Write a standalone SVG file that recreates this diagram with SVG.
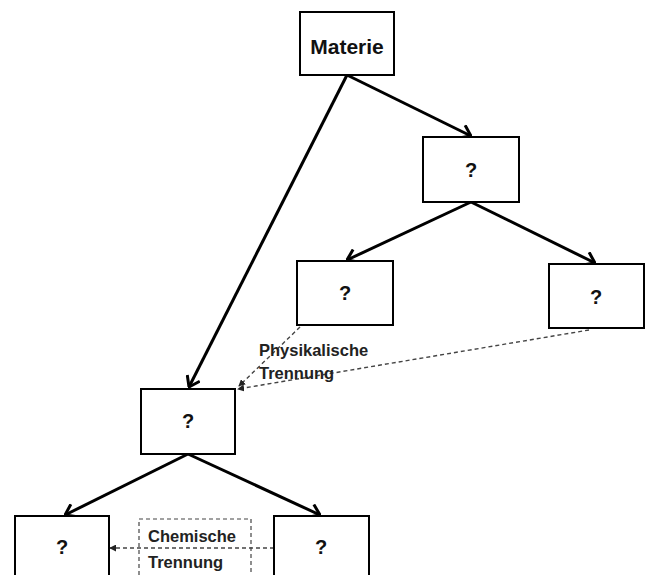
<svg xmlns="http://www.w3.org/2000/svg" width="649" height="575" viewBox="0 0 649 575">
<style>
.box{fill:#fff;stroke:#000;stroke-width:2}
.t{font-family:"Liberation Sans",Arial,sans-serif;font-weight:bold;font-size:20px;fill:#111;text-anchor:middle}
.m{font-size:21px}
.lbl{font-family:"Liberation Sans",Arial,sans-serif;font-weight:bold;font-size:16.5px;fill:#222}
.solid{stroke:#000;stroke-width:3;fill:none;marker-end:url(#open)}
.dash{stroke:#444;stroke-width:1.4;stroke-dasharray:4 3;fill:none;marker-end:url(#tri)}
</style>
<defs>
<marker id="open" viewBox="0 0 12 16" refX="11" refY="8" markerWidth="12" markerHeight="16" markerUnits="userSpaceOnUse" orient="auto">
<path d="M1,1 L11,8 L1,15" fill="none" stroke="#000" stroke-width="3"/>
</marker>
<marker id="tri" viewBox="0 0 8 8" refX="7" refY="4" markerWidth="7" markerHeight="7" markerUnits="userSpaceOnUse" orient="auto">
<path d="M0,0 L8,4 L0,8 Z" fill="#222"/>
</marker>
</defs>
<rect width="649" height="575" fill="#fff"/>
<g id="connectors">
<line class="solid" x1="347" y1="75" x2="471" y2="136"/>
<line class="solid" x1="347" y1="75" x2="189" y2="387"/>
<line class="solid" x1="471" y1="202" x2="347" y2="260"/>
<line class="solid" x1="471" y1="202" x2="595" y2="263"/>
<line class="solid" x1="188" y1="454" x2="65" y2="515"/>
<line class="solid" x1="188" y1="454" x2="320" y2="515"/>
<line class="dash" x1="300" y1="327" x2="239" y2="386"/>
<line class="dash" x1="589" y1="330" x2="238" y2="389"/>
<line class="dash" x1="274" y1="548" x2="110" y2="548"/>
</g>
<g id="materie"><rect class="box" x="300" y="12" width="94" height="63"/><text class="t m" x="347" y="54">Materie</text></g>
<g id="q1"><rect class="box" x="423" y="137" width="96" height="65"/><text class="t" x="471" y="177">?</text></g>
<g id="q2"><rect class="box" x="297" y="261" width="96" height="64"/><text class="t" x="345" y="300">?</text></g>
<g id="q3"><rect class="box" x="549" y="264" width="95" height="64"/><text class="t" x="596" y="304">?</text></g>
<g id="q4"><rect class="box" x="141" y="389" width="94" height="65"/><text class="t" x="188" y="428">?</text></g>
<g id="q5"><rect class="box" x="15" y="516" width="94" height="70"/><text class="t" x="62" y="554">?</text></g>
<g id="q6"><rect class="box" x="274" y="516" width="95" height="70"/><text class="t" x="321" y="554">?</text></g>
<g id="physikalisch"><text class="lbl" x="259" y="356">Physikalische</text><text class="lbl" x="259" y="379">Trennung</text></g>
<g id="chemisch"><rect x="139" y="519" width="112" height="70" fill="none" stroke="#444" stroke-width="1.2" stroke-dasharray="4 3"/>
<text class="lbl" x="148" y="542">Chemische</text><text class="lbl" x="148" y="568">Trennung</text></g>
</svg>
